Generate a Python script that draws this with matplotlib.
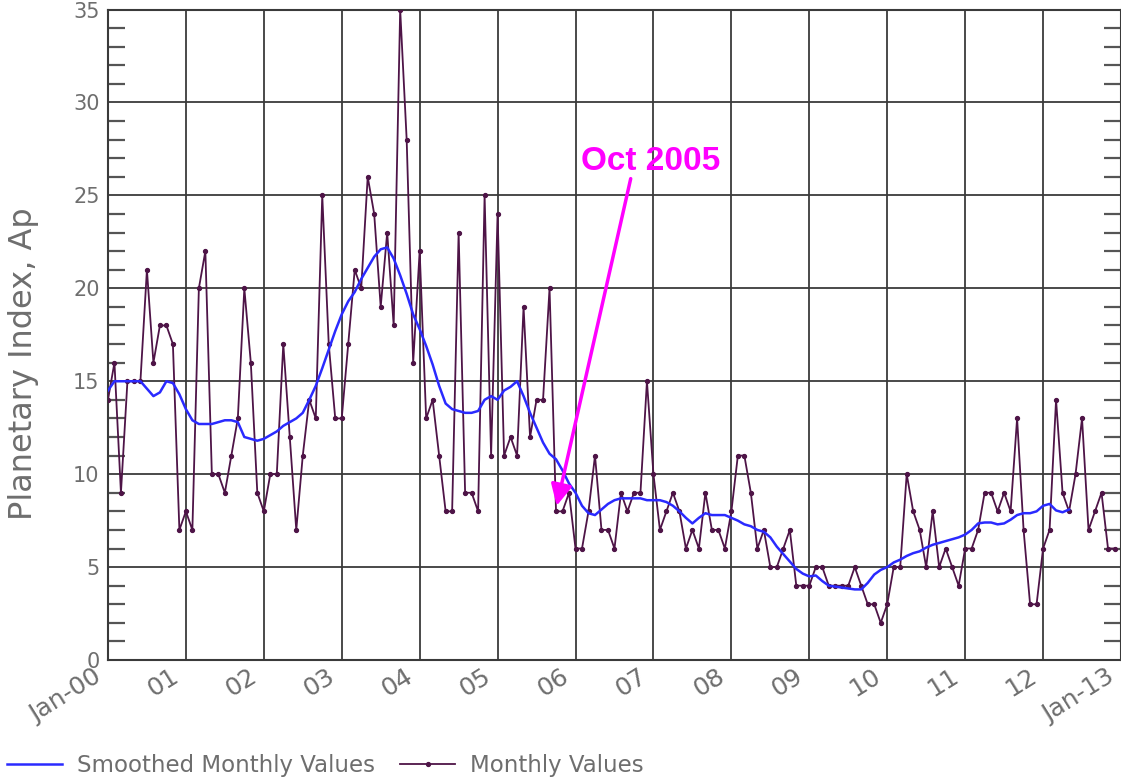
import numpy as np
import matplotlib
matplotlib.use("Agg")
import matplotlib.pyplot as plt
from matplotlib.ticker import MultipleLocator

# monthly Ap, Jan 2000 .. Dec 2012
monthly_values = [
    14, 16, 9, 15, 15, 15, 21, 16, 18, 18, 17, 7,      # 2000
    8, 7, 20, 22, 10, 10, 9, 11, 13, 20, 16, 9,        # 2001
    8, 10, 10, 17, 12, 7, 11, 14, 13, 25, 17, 13,      # 2002
    13, 17, 21, 20, 26, 24, 19, 23, 18, 35, 28, 16,    # 2003
    22, 13, 14, 11, 8, 8, 23, 9, 9, 8, 25, 11,         # 2004
    24, 11, 12, 11, 19, 12, 14, 14, 20, 8, 8, 9,       # 2005
    6, 6, 8, 11, 7, 7, 6, 9, 8, 9, 9, 15,              # 2006
    10, 7, 8, 9, 8, 6, 7, 6, 9, 7, 7, 6,               # 2007
    8, 11, 11, 9, 6, 7, 5, 5, 6, 7, 4, 4,              # 2008
    4, 5, 5, 4, 4, 4, 4, 5, 4, 3, 3, 2,                # 2009
    3, 5, 5, 10, 8, 7, 5, 8, 5, 6, 5, 4,               # 2010
    6, 6, 7, 9, 9, 8, 9, 8, 13, 7, 3, 3,               # 2011
    6, 7, 14, 9, 8, 10, 13, 7, 8, 9, 6, 6,             # 2012
]

# smoothed monthly values, Jan 2000 .. May 2012
smoothed_values = [
    14.5, 15.0, 15.0, 15.0, 15.0, 15.0, 14.6, 14.2, 14.4, 15.0, 14.9, 14.3,
    13.5, 12.9, 12.7, 12.7, 12.7, 12.8, 12.9, 12.9, 12.8, 12.0, 11.9, 11.8,
    11.9, 12.1, 12.3, 12.6, 12.8, 13.0, 13.3, 14.0, 14.75, 15.7, 16.7, 17.7,
    18.6, 19.3, 19.8, 20.5, 21.1, 21.7, 22.1, 22.2, 21.6, 20.7, 19.7, 18.6,
    17.8, 16.9, 15.9, 14.75, 13.8, 13.5, 13.4, 13.3, 13.3, 13.4, 14.0, 14.2,
    14.0, 14.5, 14.7, 15.0, 14.2, 13.3, 12.5, 11.7, 11.1, 10.8, 10.2, 9.5,
    9.0, 8.3, 7.9, 7.8, 8.1, 8.4, 8.6, 8.7, 8.7, 8.7, 8.7, 8.6,
    8.6, 8.6, 8.5, 8.3, 8.0, 7.65, 7.35, 7.65, 7.9, 7.8, 7.8, 7.8,
    7.65, 7.5, 7.3, 7.2, 7.0, 6.9, 6.6, 6.1, 5.7, 5.3, 4.9, 4.65,
    4.5, 4.55, 4.25, 4.0, 3.95, 3.9, 3.85, 3.8, 3.8, 4.15, 4.6, 4.85,
    5.0, 5.25, 5.4, 5.6, 5.75, 5.85, 6.05, 6.2, 6.3, 6.4, 6.5, 6.6,
    6.75, 7.0, 7.35, 7.4, 7.4, 7.3, 7.35, 7.55, 7.8, 7.9, 7.9, 8.0,
    8.3, 8.4, 8.05, 7.95, 8.1,
]

tick_labels = ["Jan-00", "01", "02", "03", "04", "05", "06", "07",
               "08", "09", "10", "11", "12", "Jan-13"]

months = np.arange(len(monthly_values))
smooth_months = np.arange(len(smoothed_values))
year_ticks = np.arange(0, 157, 12)

fig = plt.figure(figsize=(11.21, 7.8), dpi=100)
ax = fig.add_axes([0.0963, 0.1538, 0.9037, 0.834])

grid_c = "#3a3a3a"
text_c = "#6e6e6e"

ax.plot(smooth_months, smoothed_values, color="#2a2aff", lw=1.8,
        label="Smoothed Monthly Values", zorder=4)
ax.plot(months, monthly_values, color="#4e1447", lw=1.3, marker="o",
        ms=2.8, label="Monthly Values", zorder=3)

ax.set_xlim(0, 156)
ax.set_ylim(0, 35)
ax.set_xticks(year_ticks)
ax.set_xticklabels([])
# rotated year labels, pulled a little left of their grid line
for pos, lab in zip(year_ticks, tick_labels):
    ax.annotate(lab, xy=(pos, 0), xycoords=("data", "axes fraction"),
                xytext=(-11, -3), textcoords="offset points",
                rotation=32, rotation_mode="anchor", ha="right", va="top",
                fontsize=18, color=text_c, annotation_clip=False)

ax.yaxis.set_major_locator(MultipleLocator(5))
ax.yaxis.set_minor_locator(MultipleLocator(1))
ax.tick_params(axis="x", length=0)
ax.tick_params(axis="y", which="major", length=0, labelsize=15,
               labelcolor=text_c, pad=6)
ax.tick_params(axis="y", which="minor", direction="in", length=12,
               width=1.6, color="#555555", left=True, right=True)
ax.grid(True, which="major", color=grid_c, lw=1.3)
for s in ax.spines.values():
    s.set_color(grid_c)
    s.set_linewidth(1.5)

ax.set_ylabel("Planetary Index, Ap", fontsize=23, color=text_c, labelpad=12)
ax.yaxis.set_label_coords(-0.068, 0.455)

ax.annotate("", xy=(69.1, 8.3), xytext=(80.5, 25.9),
            arrowprops=dict(arrowstyle="-|>", color="#ff00ff", lw=2.5,
                            mutation_scale=32, shrinkA=0, shrinkB=0),
            zorder=6)
ax.text(83.5, 26.8, "Oct 2005", color="#ff00ff", fontsize=24,
        fontweight="bold", family="Liberation Sans", ha="center",
        va="center", zorder=6)

fig.legend(loc="center left", bbox_to_anchor=(-0.012, 0.018), ncol=2,
           frameon=False, fontsize=16.5, handlelength=2.4, handletextpad=0.65,
           columnspacing=1.1, labelcolor=text_c)

fig.savefig("out.png", dpi=100)
